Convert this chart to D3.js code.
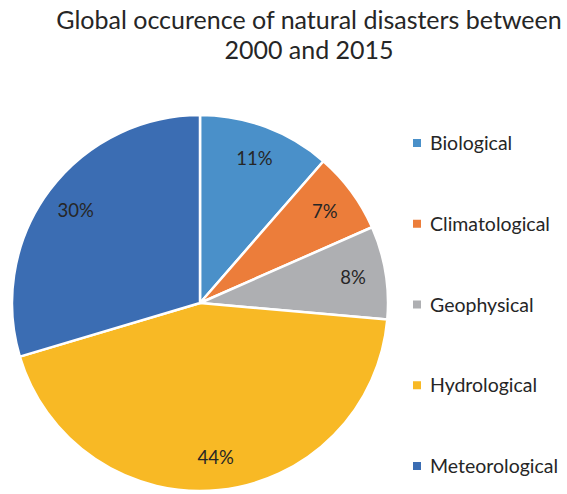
<!DOCTYPE html>
<html>
<head>
<meta charset="utf-8">
<script src="https://cdn.jsdelivr.net/npm/d3@7"></script>
<style>
  html, body { margin: 0; padding: 0; background: #fff; }
  svg { display: block; }
</style>
</head>
<body>
<svg id="chart" width="567" height="494"></svg>
<script>
// ---- data ----
const titleLines = ["Global occurence of natural disasters between", "2000 and 2015"];
const categories = ["Biological", "Climatological", "Geophysical", "Hydrological", "Meteorological"];
const values = [11.4, 7.0, 8.0, 44.0, 29.6];
const labels = ["11%", "7%", "8%", "44%", "30%"];
const colors = ["#4a90c9", "#ec7d3a", "#aeafb2", "#f8b925", "#3b6db3"];

// ---- layout ----
const svg = d3.select("#chart");
const cx = 200, cy = 303, R = 188;
const font = "Lato, 'Open Sans', sans-serif";
const textColor = "#262626";

// title
svg.append("g").selectAll("text")
  .data(titleLines)
  .join("text")
  .attr("x", 309)
  .attr("y", (d, i) => 29 + i * 30)
  .attr("text-anchor", "middle")
  .attr("font-family", font)
  .attr("font-size", 25)
  .attr("fill", textColor)
  .text(d => d);

// pie
const data = categories.map((c, i) => ({ cat: c, value: values[i], label: labels[i], color: colors[i] }));
const pie = d3.pie().value(d => d.value).sort(null);
const arcs = pie(data);
const arc = d3.arc().innerRadius(0).outerRadius(R);
const labelArc = d3.arc().innerRadius(155).outerRadius(155);

const g = svg.append("g").attr("transform", `translate(${cx},${cy})`);
g.selectAll("path")
  .data(arcs)
  .join("path")
  .attr("d", arc)
  .attr("fill", d => d.data.color)
  .attr("stroke", "#fff")
  .attr("stroke-width", 2.5)
  .attr("stroke-linejoin", "round");

g.selectAll("text.lbl")
  .data(arcs)
  .join("text")
  .attr("class", "lbl")
  .attr("transform", d => `translate(${labelArc.centroid(d)})`)
  .attr("text-anchor", "middle")
  .attr("dy", "0.36em")
  .attr("font-family", font)
  .attr("font-size", 18.5)
  .attr("fill", textColor)
  .text(d => d.data.label);

// legend
const legendY = d3.scalePoint().domain(categories).range([143, 466]);
const leg = svg.append("g").selectAll("g")
  .data(data)
  .join("g")
  .attr("transform", d => `translate(413,${legendY(d.cat)})`);
leg.append("rect")
  .attr("x", 0).attr("y", -4)
  .attr("width", 8).attr("height", 8)
  .attr("fill", d => d.color);
leg.append("text")
  .attr("x", 17)
  .attr("dy", "0.36em")
  .attr("font-family", font)
  .attr("font-size", 19.5)
  .attr("fill", textColor)
  .text(d => d.cat);
</script>
</body>
</html>
